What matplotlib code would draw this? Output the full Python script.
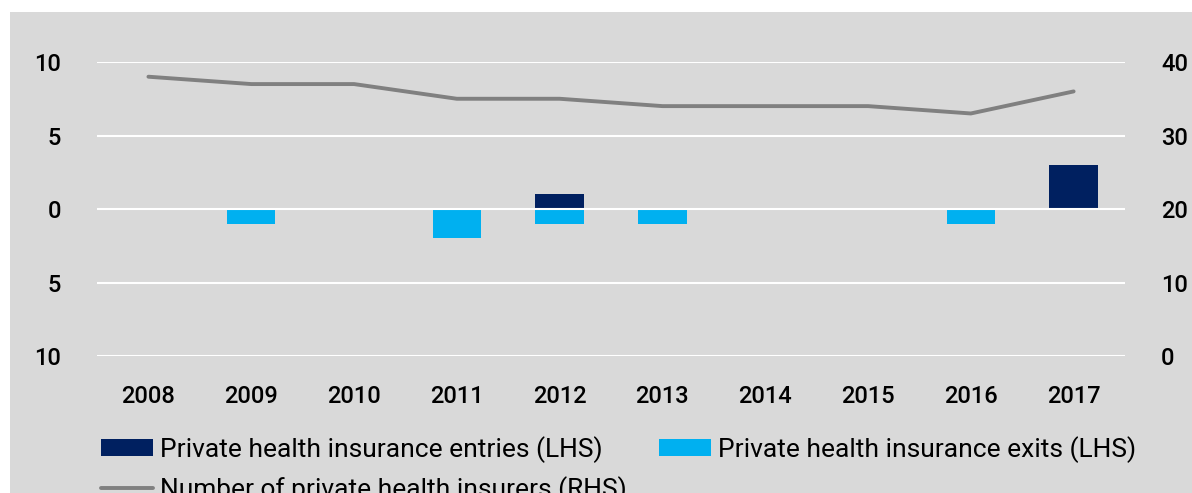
import matplotlib.pyplot as plt
import matplotlib.patches as mpatches
from matplotlib.ticker import FuncFormatter
import numpy as np

years = ['2008', '2009', '2010', '2011', '2012', '2013', '2014', '2015', '2016', '2017']
entries = [0, 0, 0, 0, 1, 0, 0, 0, 0, 3]
exits = [0, -1, 0, -2, -1, -1, 0, 0, -1, 0]
insurers = [38, 37, 37, 35, 35, 34, 34, 34, 33, 36]

plt.rcParams['font.family'] = ['Roboto', 'DejaVu Sans']

fig = plt.figure(figsize=(11.92, 4.93), dpi=100, facecolor='white')
fig.patches.append(mpatches.Rectangle((10 / 1192, 0), 1, 1 - 12 / 493,
                                      transform=fig.transFigure, facecolor='#d9d9d9',
                                      edgecolor='none', zorder=-10))

ax = fig.add_axes([0.0814, 0.2779, 0.8624, 0.5963])
ax.set_facecolor('none')
x = np.arange(len(years))
ax.bar(x, entries, width=0.47, color='#002060', zorder=2, label='Private health insurance entries (LHS)')
ax.bar(x, exits, width=0.47, color='#00b0f0', zorder=2, label='Private health insurance exits (LHS)')
ax.set_ylim(-10, 10)
ax.set_xlim(-0.5, 9.5)
ax.set_yticks([-10, -5, 0, 5, 10])
ax.yaxis.set_major_formatter(FuncFormatter(lambda v, p: '%d' % abs(v)))
ax.set_xticks(x)
ax.set_xticklabels(years)
ax.grid(axis='y', color='white', linewidth=1.5, zorder=3)
ax.set_axisbelow(False)
for s in ax.spines.values():
    s.set_visible(False)
ax.tick_params(axis='both', length=0, labelsize=17)
ax.tick_params(axis='y', pad=26)
ax.tick_params(axis='x', pad=21)

ax2 = ax.twinx()
ax2.plot(x, insurers, color='#808080', linewidth=2.8, solid_capstyle='round',
         label='Number of private health insurers (RHS)', zorder=4)
ax2.set_ylim(0, 40)
ax2.set_yticks([0, 10, 20, 30, 40])
for s in ax2.spines.values():
    s.set_visible(False)
ax2.tick_params(axis='y', length=0, labelsize=17, pad=26)
for lab in ax.get_xticklabels() + ax.get_yticklabels() + ax2.get_yticklabels():
    lab.set_fontweight('medium')

h1, l1 = ax.get_legend_handles_labels()
h2, l2 = ax2.get_legend_handles_labels()
handles = [h1[0], h2[0], h1[1]]
labels = [l1[0], l2[0], l1[1]]
fig.legend(handles, labels, ncol=2, loc='upper left', bbox_to_anchor=(0.085, 0.116),
           frameon=False, fontsize=19, handlelength=1.97, handleheight=0.6,
           handletextpad=0.27, columnspacing=1.2, labelspacing=0.5, borderaxespad=0,
           borderpad=0)

fig.savefig('out.png', dpi=100, facecolor='white')
